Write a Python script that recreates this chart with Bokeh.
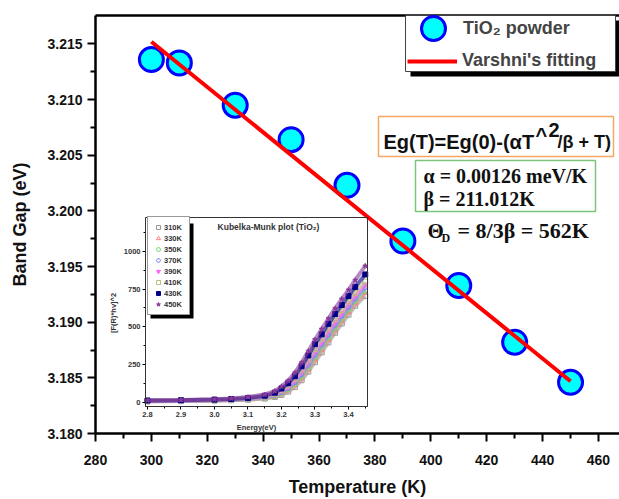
from bokeh.plotting import figure
from bokeh.models import (Range1d, LinearAxis, FixedTicker, PrintfTickFormatter,
                          Legend, LegendItem, Label, BoxAnnotation)
from bokeh.embed import file_html
from bokeh.resources import INLINE

# ---------------- main data ----------------
temps = [300, 310, 330, 350, 370, 390, 410, 430, 450]
band_gap = [3.2136, 3.2133, 3.2095, 3.2064, 3.2023, 3.1973, 3.1933, 3.1882, 3.1846]
fit_T = [300, 450]
fit_Eg = [3.2152, 3.1847]
x_ticks = [280, 300, 320, 340, 360, 380, 400, 420, 440, 460]
x_minor = [290, 310, 330, 350, 370, 390, 410, 430, 450]
y_ticks = [3.180, 3.185, 3.190, 3.195, 3.200, 3.205, 3.210, 3.215]
y_minor = [3.1825, 3.1875, 3.1925, 3.1975, 3.2025, 3.2075, 3.2125]

# ---------------- inset data (Kubelka-Munk) ----------------
energy = [2.80, 2.90, 3.00, 3.05, 3.10, 3.15, 3.18, 3.20, 3.22, 3.24,
          3.26, 3.28, 3.30, 3.32, 3.34, 3.36, 3.38, 3.40, 3.42, 3.45]
km_310 = [4, 6, 9, 12, 15, 23, 33, 47, 69, 100, 145, 202, 265, 330, 396, 460, 522, 580, 640, 705]
km_330 = [5, 7, 10, 13, 17, 25, 36, 52, 76, 110, 157, 217, 282, 348, 413, 478, 540, 598, 656, 725]
km_350 = [6, 8, 11, 14, 18, 28, 40, 58, 84, 120, 170, 232, 298, 365, 430, 495, 556, 614, 672, 745]
km_370 = [7, 9, 12, 15, 20, 31, 44, 64, 92, 131, 185, 248, 315, 382, 448, 512, 572, 630, 688, 762]
km_390 = [8, 10, 13, 16, 22, 34, 49, 71, 101, 143, 200, 265, 333, 400, 466, 530, 590, 648, 705, 780]
km_410 = [9, 11, 14, 18, 24, 37, 54, 78, 110, 155, 215, 282, 352, 420, 486, 550, 610, 668, 725, 800]
km_430 = [10, 12, 16, 20, 27, 42, 62, 90, 125, 172, 238, 310, 385, 450, 520, 585, 645, 705, 765, 848]
km_450 = [12, 14, 19, 24, 33, 50, 73, 104, 142, 195, 262, 338, 415, 485, 555, 622, 685, 745, 810, 905]
km_labels = ["310K", "330K", "350K", "370K", "390K", "410K", "430K", "450K"]
inset_xticks = [2.8, 2.9, 3.0, 3.1, 3.2, 3.3, 3.4]
inset_xminor = [2.85, 2.95, 3.05, 3.15, 3.25, 3.35, 3.45]
inset_yticks = [0, 250, 500, 750, 1000]
inset_yminor = [125, 375, 625, 875, 1125]

km_series = [km_310, km_330, km_350, km_370, km_390, km_410, km_430, km_450]
km_colors = ["#9a9a9a", "#ff8080", "#70dd70", "#8080ff", "#ff60ff", "#bdbd80", "#000088", "#8b3a9b"]
km_markers = ["square", "triangle", "circle", "hex", "inverted_triangle", "square", "square", "star"]
km_filled = [False, False, False, False, True, False, True, True]

SANS = "Liberation Sans"
SERIF = "Liberation Serif"

p = figure(width=619, height=499, output_backend="svg", toolbar_location=None,
           x_range=Range1d(280, 467.52), y_range=Range1d(3.180, 3.21756),
           min_border_left=95, min_border_right=0, min_border_top=15, min_border_bottom=59)
p.outline_line_color = None
p.grid.visible = False
p.background_fill_color = "white"

p.extra_x_ranges = {"ix": Range1d(2.64478, 4.20896)}
p.extra_y_ranges = {"iy": Range1d(-209.15, 2568.6)}

# main axes styling
xa = p.xaxis[0]
xa.ticker = FixedTicker(ticks=x_ticks, minor_ticks=x_minor)
xa.axis_label = "Temperature (K)"
ya = p.yaxis[0]
ya.ticker = FixedTicker(ticks=y_ticks, minor_ticks=y_minor)
ya.formatter = PrintfTickFormatter(format="%.3f")
ya.axis_label = "Band Gap (eV)"
for ax in (xa, ya):
    ax.axis_line_width = 2.5
    ax.axis_line_color = "black"
    ax.major_tick_line_width = 2
    ax.minor_tick_line_width = 2
    ax.major_tick_out = 8
    ax.major_tick_in = 0
    ax.minor_tick_out = 5
    ax.minor_tick_in = 0
    ax.major_label_text_font = SANS
    ax.major_label_text_font_style = "bold"
    ax.major_label_text_font_size = "14px"
    ax.major_label_text_color = "#111111"
    ax.axis_label_text_font = SANS
    ax.axis_label_text_font_style = "bold"
    ax.axis_label_text_font_size = "18px"
    ax.axis_label_text_color = "#111111"
xa.major_label_standoff = 13
xa.axis_label_standoff = 9
ya.major_label_standoff = 5
ya.axis_label_standoff = 14

top_axis = LinearAxis(ticker=FixedTicker(ticks=[]), major_label_text_font_size="0px",
                      major_tick_out=0, minor_tick_out=0, axis_line_width=2.5)
p.add_layout(top_axis, "above")

# main glyphs
pts = p.scatter(temps, band_gap, size=24, marker="circle", fill_color="#00FFFF",
                line_color="#0000FF", line_width=3)
fit = p.line(fit_T, fit_Eg, line_color="#FF0000", line_width=4)

# ---------------- inset ----------------
p.add_layout(BoxAnnotation(left=50, right=272, top=216, bottom=27,
                           left_units="screen", right_units="screen",
                           top_units="screen", bottom_units="screen",
                           fill_alpha=0, line_color="#333333", line_width=1, line_alpha=1))

inset_items = []
for vals, col, mk, filled, lab in zip(km_series, km_colors, km_markers, km_filled, km_labels):
    p.line(energy, vals, line_color=col, line_width=4, line_alpha=0.6,
           x_range_name="ix", y_range_name="iy")
    r = p.scatter(energy, vals, marker=mk, size=5, line_color=col,
                  fill_color=col if filled else None, line_width=1,
                  x_range_name="ix", y_range_name="iy")
    inset_items.append(LegendItem(label=lab, renderers=[r]))

ixa = LinearAxis(x_range_name="ix", y_range_name="iy", fixed_location=-30,
                 bounds=(2.794, 3.457),
                 ticker=FixedTicker(ticks=inset_xticks, minor_ticks=inset_xminor),
                 formatter=PrintfTickFormatter(format="%.1f"),
                 axis_label="Energy(eV)")
iya = LinearAxis(x_range_name="ix", y_range_name="iy", fixed_location=2.794,
                 bounds=(-30, 1210),
                 ticker=FixedTicker(ticks=inset_yticks, minor_ticks=inset_yminor),
                 axis_label="[F(R)*hv]^2")
for ax in (ixa, iya):
    ax.axis_line_width = 1
    ax.major_tick_out = 3
    ax.major_tick_in = 0
    ax.minor_tick_out = 2
    ax.minor_tick_in = 0
    ax.major_label_text_font = SANS
    ax.major_label_text_font_style = "bold"
    ax.major_label_text_font_size = "7.5px"
    ax.major_label_text_color = "#333333"
    ax.major_label_standoff = 2
    ax.axis_label_text_font = SANS
    ax.axis_label_text_font_style = "bold"
    ax.axis_label_text_font_size = "7.5px"
    ax.axis_label_text_color = "#333333"
    ax.axis_label_standoff = 3
p.add_layout(ixa, "below")
p.add_layout(iya, "left")

def label(text, x, y, size, font=SANS, align="left", color="#111111"):
    p.add_layout(Label(x=x, y=y, x_units="screen", y_units="screen", text=text,
                       text_font=font, text_font_style="bold", text_font_size=size,
                       text_baseline="middle", text_align=align, text_color=color))

label("Kubelka-Munk plot (TiO₂)", 173, 207, "8.5px", align="center", color="#333333")

# inset legend with shadow
p.add_layout(BoxAnnotation(left=55, right=98, top=210, bottom=115,
                           left_units="screen", right_units="screen",
                           top_units="screen", bottom_units="screen",
                           fill_color="black", fill_alpha=1, line_alpha=0))
ileg = Legend(items=inset_items, location=(52, 118), padding=5, spacing=1, margin=0,
              glyph_width=10, glyph_height=10, label_height=10, label_standoff=1,
              label_text_font=SANS, label_text_font_style="bold",
              label_text_font_size="7.5px", label_text_color="#333333",
              border_line_color="#333333", border_line_width=1,
              background_fill_color="white", background_fill_alpha=1)
p.add_layout(ileg)

# ---------------- main legend (box + shadow + two rows) ----------------
p.add_layout(BoxAnnotation(left=315, right=525, top=413, bottom=357,
                           left_units="screen", right_units="screen",
                           top_units="screen", bottom_units="screen",
                           fill_color="black", fill_alpha=1, line_alpha=0))
p.add_layout(BoxAnnotation(left=310, right=520, top=418, bottom=362,
                           left_units="screen", right_units="screen",
                           top_units="screen", bottom_units="screen",
                           fill_color="white", fill_alpha=1, line_color="#444444",
                           line_width=1, line_alpha=1))
leg1 = Legend(items=[LegendItem(label="TiO₂ powder", renderers=[pts])], location=(308, 375),
              padding=0, margin=0, glyph_width=60, glyph_height=60, label_standoff=0,
              label_text_font=SANS, label_text_font_style="bold", label_text_font_size="18px",
              border_line_color=None, background_fill_alpha=0)
leg2 = Legend(items=[LegendItem(label="Varshni's fitting", renderers=[fit])], location=(312, 362),
              padding=0, margin=0, glyph_width=50, glyph_height=20, label_standoff=5,
              label_text_font=SANS, label_text_font_style="bold", label_text_font_size="18px",
              border_line_color=None, background_fill_alpha=0)
p.add_layout(leg1)
p.add_layout(leg2)

# ---------------- formula boxes ----------------
p.add_layout(BoxAnnotation(left=283, right=518, top=317, bottom=277,
                           left_units="screen", right_units="screen",
                           top_units="screen", bottom_units="screen",
                           fill_color="white", fill_alpha=1, line_color="#F5A864",
                           line_width=1.5, line_alpha=1))
label("Eg(T)=Eg(0)-(αT", 288, 292, "20px")
label("^", 440, 299, "20px")
label("2", 453, 304, "20px")
label("/β + T)", 462, 292, "18px")

p.add_layout(BoxAnnotation(left=320, right=500, top=273, bottom=222,
                           left_units="screen", right_units="screen",
                           top_units="screen", bottom_units="screen",
                           fill_color="white", fill_alpha=1, line_color="#7CC47C",
                           line_width=1.5, line_alpha=1))
label("α = 0.00126 meV/K", 328, 258, "20px", font=SERIF)
label("β = 211.012K", 328, 235, "20px", font=SERIF)
label("Θ", 332, 203, "21px", font=SERIF)
label("D", 346, 196, "12px", font=SERIF)
label("=  8/3β  =  562K", 362, 203, "22px", font=SERIF)

open("out.html", "w").write(file_html(p, INLINE))
